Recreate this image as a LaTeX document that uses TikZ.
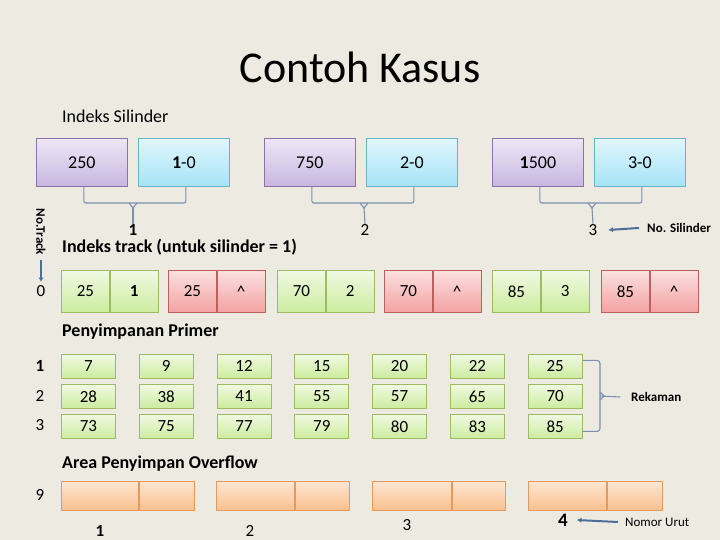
\documentclass[tikz,border=0pt]{standalone}
\usepackage{fontspec}
\setmainfont{Carlito}
\usetikzlibrary{arrows.meta}
\definecolor{bg}{HTML}{EDEAE1}
\definecolor{ptop}{HTML}{EEE7F6}\definecolor{pbot}{HTML}{C8B6E0}\definecolor{pbrd}{HTML}{8C72A8}
\definecolor{ctop}{HTML}{E0F6FC}\definecolor{cbot}{HTML}{A6E3F6}\definecolor{cbrd}{HTML}{6AB2C8}
\definecolor{gtop}{HTML}{F0F9E2}\definecolor{gbot}{HTML}{CCEC9E}\definecolor{gbrd}{HTML}{9DBB62}
\definecolor{rtop}{HTML}{FBE0E0}\definecolor{rbot}{HTML}{F3A2A2}\definecolor{rbrd}{HTML}{C0605C}
\definecolor{otop}{HTML}{FDE6D2}\definecolor{obot}{HTML}{FAC08E}\definecolor{obrd}{HTML}{E39A5C}
\definecolor{brcol}{HTML}{7A90AE}\definecolor{arcol}{HTML}{4C6E98}
\newcommand{\fsz}[1]{\fontsize{#1}{#1}\selectfont}
\tikzset{
  box/.style={draw, line width=0.8pt, inner sep=0pt, anchor=north west},
  pbox/.style={box, draw=pbrd, top color=ptop, bottom color=pbot, minimum width=91pt, minimum height=48pt, font=\fsz{18}},
  cbox/.style={box, draw=cbrd, top color=ctop, bottom color=cbot, minimum width=91pt, minimum height=48pt, font=\fsz{18}},
  gcell/.style={box, draw=gbrd, top color=gtop, bottom color=gbot, minimum width=48pt, minimum height=42pt, font=\fsz{17}},
  rcell/.style={box, draw=rbrd, top color=rtop, bottom color=rbot, minimum width=48pt, minimum height=42pt, font=\fsz{17}},
  prim/.style={box, draw=gbrd, top color=gtop, bottom color=gbot, minimum width=54pt, minimum height=24pt, font=\fsz{17}},
  ocell/.style={box, draw=obrd, top color=otop, bottom color=obot, minimum height=29pt},
  lbl/.style={inner sep=0.5pt, font=\fsz{17}},
  head/.style={inner sep=0pt, anchor=west, font=\fsz{18}\bfseries},
  small/.style={inner sep=0pt, anchor=west, font=\fsz{13}},
  brc/.style={draw=brcol, line width=1.1pt},
  arr/.style={draw=arcol, line width=2pt, -{Latex[length=5pt,width=5pt]}},
}
\begin{document}
\begin{tikzpicture}[x=1pt,y=-1pt]
\fill[bg] (0,0) rectangle (720,540);
\useasboundingbox (0,0) rectangle (720,540);
% title
\node[inner sep=0pt, font=\fsz{44}] (title) at (360,67) {Contoh Kasus};
\node[inner sep=0pt, anchor=west, font=\fsz{18}] (isil) at (62,116) {Indeks Silinder};
% top boxes
\node[pbox] (s1) at (36,138) {250};
\node[cbox] (s2) at (138,138) {\textbf{1}-0};
\node[pbox] (s3) at (264,138) {750};
\node[cbox] (s4) at (366,138) {2-0};
\node[pbox] (s5) at (492,138) {\textbf{1}500};
\node[cbox] (s6) at (594,138) {3-0};
% brace labels
\node[lbl] (l1) at (133,230) {\textbf{1}};
\node[lbl] (l2) at (365,230) {2};
\node[lbl] (l3) at (593,230) {3};
\coordinate (b1) at (133,203);
\coordinate (b2) at (364,203);
\coordinate (b3) at (592,203);
\foreach \a/\b/\c/\l in {s1/s2/b1/l1, s3/s4/b2/l2, s5/s6/b3/l3}{
  \draw[brc, rounded corners=2pt] ([xshift=2pt]\a.south) |- (\c) -| ([xshift=2pt]\b.south);
  \draw[brc] (\c) ++(-4,0) -- ++(4,5) -- ++(4,-5);
  \draw[brc] (\c) ++(0,5) -- (\l.north);
}
\node[small, font=\fsz{13}\bfseries] (nosil) at (647,228) {No. Silinder};
\draw[arr] ([xshift=-8pt]nosil.west) -- ([xshift=10pt]l3.east);
% no track
\node[inner sep=0pt, rotate=-90, font=\fsz{13}\bfseries] (ntrack) at (41,232) {No.Track};
\node[lbl] (t0) at (41,291) {0};
\draw[draw=arcol, line width=2pt, -{Latex[length=4pt,width=5pt]}] ([yshift=-5pt]ntrack.east) -- ([yshift=3pt]t0.north);
\node[head] (itrack) at (62,247) {Indeks track (untuk silinder = 1)};
% track row
\node[gcell] (t1a) at (61,270) {25};
\node[gcell, anchor=west] (t1b) at (t1a.east) {\textbf{1}};
\node[rcell] (t2a) at (168,270) {25};
\node[rcell, anchor=west] (t2b) at (t2a.east) {\textasciicircum};
\node[gcell] (t3a) at (277,270) {70};
\node[gcell, anchor=west] (t3b) at (t3a.east) {2};
\node[rcell] (t4a) at (384,270) {70};
\node[rcell, anchor=west] (t4b) at (t4a.east) {\textasciicircum};
\node[gcell] (t5a) at (492,270) {85};
\node[gcell, anchor=west] (t5b) at (t5a.east) {3};
\node[rcell] (t6a) at (601,270) {85};
\node[rcell, anchor=west] (t6b) at (t6a.east) {\textasciicircum};
% primary
\node[head] (prim) at (62,332) {Penyimpanan Primer};
\node[lbl] (r1) at (40,366) {\textbf{1}};
\node[lbl] (r2) at (40,396) {2};
\node[lbl] (r3) at (40,425) {3};
\foreach \v [count=\i] in {7,9,12,15,20,22,25}{
  \pgfmathsetmacro{\xx}{61+77.8*(\i-1)}
  \node[prim] (p1\i) at (\xx,354) {\v};
}
\foreach \v [count=\i] in {28,38,41,55,57,65,70}{
  \pgfmathsetmacro{\xx}{61+77.8*(\i-1)}
  \node[prim] (p2\i) at (\xx,384) {\v};
}
\foreach \v [count=\i] in {73,75,77,79,80,83,85}{
  \pgfmathsetmacro{\xx}{61+77.8*(\i-1)}
  \node[prim] (p3\i) at (\xx,414) {\v};
}
\node[small, font=\fsz{13}\bfseries] (rek) at (631,397) {Rekaman};
\coordinate (rb) at (600,396);
\draw[brc, rounded corners=3pt] ([yshift=6pt]p17.east) -| (rb) |- ([yshift=-5pt]p37.east);
\draw[brc] (rb) ++(0,-4) -- ++(4,4) -- ++(-4,4);
\draw[brc] (rb) -- ([xshift=-11pt]rek.west);
% overflow
\node[head] (ovf) at (62,464) {Area Penyimpan Overflow};
\node[lbl] (o9) at (40,495) {9};
\node[ocell, minimum width=77pt] (o1a) at (61,481) {};
\node[ocell, minimum width=55pt, anchor=west] (o1b) at (o1a.east) {};
\node[ocell, minimum width=78pt] (o2a) at (216,481) {};
\node[ocell, minimum width=54pt, anchor=west] (o2b) at (o2a.east) {};
\node[ocell, minimum width=79pt] (o3a) at (372,481) {};
\node[ocell, minimum width=53pt, anchor=west] (o3b) at (o3a.east) {};
\node[ocell, minimum width=78pt] (o4a) at (528,481) {};
\node[ocell, minimum width=55pt, anchor=west] (o4b) at (o4a.east) {};
\node[lbl] (n1) at (100,531) {\textbf{1}};
\node[lbl] (n2) at (250,531) {2};
\node[lbl] (n3) at (407,525) {3};
\node[lbl, font=\fsz{19}\bfseries] (n4) at (563,520) {4};
\node[small] (nurut) at (625,522) {Nomor Urut};
\draw[arr] ([xshift=-7pt]nurut.west) -- ([xshift=8pt]n4.east);
\end{tikzpicture}
\end{document}
